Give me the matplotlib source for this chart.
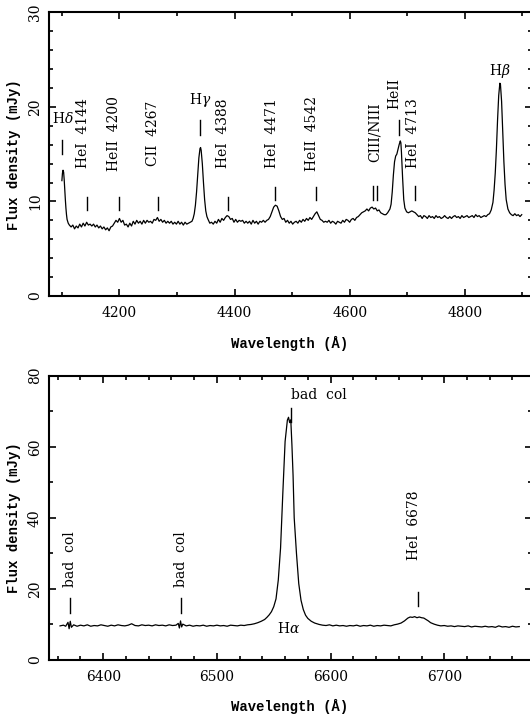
#!/usr/bin/python3

#
# plot.py: blue and red optical spectra with line identifications.
# Writes out.png.
#

import matplotlib
matplotlib.use('Agg')
import matplotlib.pyplot as plt
from matplotlib.ticker import MultipleLocator

# blue arm: wavelength (A) and flux density (mJy)
blue_wave = [
  4100, 4101, 4102, 4103, 4104, 4105, 4106, 4107, 4108, 4109, 4111, 4113,
  4116, 4119, 4122, 4125, 4128, 4131, 4134, 4137, 4140, 4143, 4146, 4149,
  4152, 4155, 4158, 4161, 4164, 4167, 4170, 4173, 4176, 4179, 4182, 4185,
  4188, 4191, 4194, 4197, 4200, 4203, 4206, 4209, 4212, 4215, 4218, 4221,
  4224, 4227, 4230, 4233, 4236, 4239, 4242, 4245, 4248, 4251, 4254, 4257,
  4260, 4263, 4266, 4269, 4272, 4275, 4278, 4281, 4284, 4287, 4290, 4293,
  4296, 4299, 4302, 4305, 4308, 4311, 4314, 4317, 4320, 4323, 4326, 4328,
  4330, 4332, 4334, 4336, 4338, 4340, 4341, 4342, 4344, 4346, 4348, 4350,
  4352, 4354, 4357, 4360, 4363, 4366, 4369, 4372, 4375, 4378, 4381, 4384,
  4387, 4390, 4393, 4396, 4399, 4402, 4405, 4408, 4411, 4414, 4417, 4420,
  4423, 4426, 4429, 4432, 4435, 4438, 4441, 4444, 4447, 4450, 4453, 4456,
  4459, 4462, 4465, 4468, 4471, 4474, 4477, 4480, 4483, 4486, 4489, 4492,
  4495, 4498, 4501, 4504, 4507, 4510, 4513, 4516, 4519, 4522, 4525, 4528,
  4531, 4534, 4537, 4540, 4543, 4546, 4549, 4552, 4555, 4558, 4561, 4564,
  4567, 4570, 4573, 4576, 4579, 4582, 4585, 4588, 4591, 4594, 4597, 4600,
  4603, 4606, 4609, 4612, 4615, 4618, 4621, 4624, 4627, 4630, 4633, 4636,
  4639, 4642, 4645, 4648, 4651, 4654, 4657, 4660, 4663, 4666, 4668, 4670,
  4672, 4674, 4676, 4678, 4680, 4682, 4684, 4686, 4688, 4689, 4690, 4692,
  4694, 4696, 4699, 4702, 4705, 4708, 4711, 4714, 4717, 4720, 4723, 4726,
  4729, 4732, 4735, 4738, 4741, 4744, 4747, 4750, 4753, 4756, 4759, 4762,
  4765, 4768, 4771, 4774, 4777, 4780, 4783, 4786, 4789, 4792, 4795, 4798,
  4801, 4804, 4807, 4810, 4813, 4816, 4819, 4822, 4825, 4828, 4831, 4834,
  4837, 4840, 4843, 4846, 4849, 4851, 4853, 4855, 4857, 4859, 4861, 4862,
  4864, 4866, 4868, 4870, 4872, 4875, 4878, 4881, 4884, 4887, 4890, 4893,
  4896, 4899,
]
blue_flux = [
  12.2, 13.0, 13.3, 13.1, 12.3, 11.2, 10.2, 9.3, 8.6, 8.1, 7.7, 7.5,
  7.3, 7.5, 7.1, 7.4, 7.2, 7.6, 7.3, 7.7, 7.4, 7.8, 7.5, 7.6,
  7.4, 7.6, 7.3, 7.5, 7.2, 7.4, 7.1, 7.3, 7.0, 7.2, 6.9, 7.3,
  7.4, 7.7, 8.0, 7.8, 8.2, 7.8, 8.0, 7.5, 7.6, 7.3, 7.7, 7.4,
  7.9, 7.6, 8.0, 7.7, 7.9, 7.6, 8.0, 7.7, 8.0, 7.8, 7.9, 7.7,
  8.1, 8.0, 8.3, 7.9, 8.1, 7.8, 8.0, 7.7, 7.9, 7.7, 7.9, 7.6,
  7.8, 7.6, 7.9, 7.6, 7.8, 7.5, 7.8, 7.6, 7.7, 7.8, 7.9, 8.2,
  8.7, 9.6, 11.0, 12.8, 14.6, 15.6, 15.7, 15.4, 14.0, 12.0, 10.2, 9.0,
  8.4, 8.1, 7.7, 7.8, 7.6, 7.9, 7.7, 8.1, 7.8, 8.2, 8.0, 8.3,
  8.5, 8.4, 8.1, 8.2, 7.8, 8.1, 7.8, 8.0, 7.9, 8.0, 7.7, 7.9,
  7.7, 7.9, 7.6, 8.0, 7.7, 7.9, 7.6, 7.9, 7.8, 8.0, 7.8, 8.0,
  8.1, 8.4, 8.9, 9.4, 9.6, 9.5, 9.0, 8.4, 8.1, 8.2, 7.8, 8.0,
  7.7, 7.9, 7.6, 7.8, 7.9, 7.7, 8.0, 7.8, 8.1, 7.9, 8.2, 8.0,
  8.3, 8.1, 8.4, 8.7, 8.9, 8.5, 8.1, 8.0, 7.8, 7.9, 7.8, 8.0,
  7.7, 7.9, 7.8, 7.6, 7.9, 7.8, 7.7, 8.0, 7.8, 8.1, 8.0, 7.8,
  8.1, 8.2, 8.0, 8.3, 8.4, 8.6, 8.8, 8.9, 9.0, 9.2, 9.0, 9.3,
  9.4, 9.2, 9.3, 9.0, 9.1, 8.8, 8.7, 8.6, 8.6, 8.8, 9.0, 9.2,
  9.7, 11.0, 12.8, 14.2, 14.8, 15.0, 15.5, 16.0, 16.4, 16.2, 15.2, 12.5,
  10.2, 9.3, 8.9, 8.8, 8.9, 9.0, 8.9, 8.8, 8.6, 8.4, 8.5, 8.2,
  8.5, 8.4, 8.2, 8.5, 8.3, 8.4, 8.2, 8.5, 8.3, 8.4, 8.2, 8.3,
  8.5, 8.3, 8.2, 8.4, 8.2, 8.4, 8.5, 8.3, 8.4, 8.2, 8.5, 8.3,
  8.4, 8.5, 8.3, 8.4, 8.5, 8.3, 8.6, 8.4, 8.5, 8.3, 8.4, 8.5,
  8.4, 8.6, 8.7, 9.1, 9.9, 11.2, 13.0, 15.5, 18.6, 21.2, 22.5, 22.4,
  20.6, 17.5, 14.2, 11.8, 10.2, 9.2, 8.8, 8.6, 8.5, 8.7, 8.5, 8.6,
  8.4, 8.6,
]

# red arm: wavelength (A) and flux density (mJy)
red_wave = [
  6362, 6365, 6367, 6369, 6370, 6371, 6372, 6374, 6377, 6380, 6383, 6386,
  6389, 6392, 6395, 6398, 6401, 6404, 6407, 6410, 6413, 6416, 6419, 6422,
  6425, 6428, 6431, 6434, 6437, 6440, 6443, 6446, 6449, 6452, 6455, 6458,
  6461, 6464, 6466, 6467, 6468, 6469, 6470, 6473, 6476, 6479, 6482, 6485,
  6488, 6491, 6494, 6497, 6500, 6503, 6506, 6509, 6512, 6515, 6518, 6521,
  6524, 6527, 6530, 6533, 6536, 6539, 6542, 6544, 6546, 6548, 6550, 6552,
  6554, 6556, 6558, 6560, 6562, 6563, 6564, 6565, 6566, 6567, 6568, 6569,
  6570, 6572, 6574, 6576, 6578, 6580, 6583, 6586, 6590, 6593, 6596, 6599,
  6602, 6605, 6608, 6611, 6614, 6617, 6620, 6623, 6626, 6629, 6632, 6635,
  6638, 6641, 6644, 6647, 6650, 6653, 6656, 6659, 6662, 6665, 6668, 6670,
  6672, 6674, 6676, 6678, 6680, 6682, 6684, 6686, 6688, 6691, 6694, 6697,
  6700, 6703, 6706, 6709, 6712, 6715, 6718, 6721, 6724, 6727, 6730, 6733,
  6736, 6739, 6742, 6745, 6748, 6751, 6754, 6757, 6760, 6763, 6766,
]
red_flux = [
  9.6, 9.8, 9.5, 10.6, 8.8, 10.9, 9.2, 9.9, 9.5, 9.8, 9.6, 9.9,
  9.5, 9.7, 9.6, 9.9, 9.7, 9.5, 9.8, 9.6, 9.9, 9.7, 9.6, 9.8,
  10.2, 9.7, 9.6, 9.9, 9.7, 9.8, 9.6, 9.9, 9.7, 9.8, 9.6, 9.9,
  9.7, 9.8, 10.3, 9.0, 11.0, 9.3, 10.1, 9.6, 9.8, 9.5, 9.7, 9.6,
  9.8, 9.5, 9.7, 9.6, 9.8, 9.6, 9.7, 9.5, 9.8, 9.7, 9.6, 9.8,
  9.7, 9.9, 10.0, 10.2, 10.5, 10.9, 11.4, 12.0, 12.7, 13.6, 15.0, 17.2,
  22.5, 31.5, 47.0, 61.5, 67.5, 68.3, 66.8, 67.6, 60.5, 52.0, 40.0, 35.0,
  30.0, 21.5, 16.8, 14.2, 12.6, 11.7, 10.9, 10.4, 10.0, 9.8, 9.7, 9.9,
  9.6, 9.8, 9.6, 9.7, 9.5, 9.7, 9.6, 9.8, 9.5, 9.7, 9.6, 9.8,
  9.5, 9.7, 9.6, 9.8, 9.7, 9.6, 9.9, 10.1, 10.4, 11.0, 11.8, 12.1,
  12.0, 12.2, 11.9, 12.1, 11.9, 11.8, 11.4, 11.0, 10.5, 10.1, 9.8, 9.6,
  9.7, 9.5, 9.6, 9.4, 9.6, 9.5, 9.4, 9.6, 9.3, 9.5, 9.4, 9.3,
  9.5, 9.3, 9.4, 9.2, 9.6, 9.3, 9.4, 9.2, 9.5, 9.3, 9.4,
]

# line identifications: label and wavelength(s) of its marker
blue_lines = ['H$\\delta$', 'HeI  4144', 'HeII  4200', 'CII  4267', 'H$\\gamma$',
              'HeI  4388', 'HeI  4471', 'HeII  4542', 'CIII/NIII', 'HeII',
              'HeI  4713', 'H$\\beta$']
blue_marks = [[4101], [4144], [4200], [4267], [4340], [4388], [4471], [4542],
              [4640, 4647], [4686], [4713], [4861]]
red_lines = ['bad  col', 'bad  col', 'bad  col', 'HeI  6678', 'H$\\alpha$']
red_marks = [[6371], [6468], [6565], [6677], []]

# where each label and marker sits: label x, label y, rotation, ha,
# marker bottom, marker top
blue_layout = [
  (4102, 18.8, 0, 'center', 15.0, 16.5),
  (4137, 17.2, 90, 'center', 9.1, 10.5),
  (4191, 17.2, 90, 'center', 9.1, 10.5),
  (4258, 17.2, 90, 'center', 9.1, 10.5),
  (4340, 20.7, 0, 'center', 17.0, 18.6),
  (4380, 17.2, 90, 'center', 9.1, 10.5),
  (4465, 17.2, 90, 'center', 10.1, 11.5),
  (4534, 17.2, 90, 'center', 10.1, 11.5),
  (4644, 17.3, 90, 'center', 10.1, 11.6),
  (4678, 21.4, 90, 'center', 17.0, 18.6),
  (4710, 17.2, 90, 'center', 10.1, 11.6),
  (4861, 23.8, 0, 'center', 0, 0),
]
red_layout = [
  (6371, 28.3, 90, 'center', 13.3, 17.4),
  (6468, 28.3, 90, 'center', 13.3, 17.4),
  (6565, 74.6, 0, 'left', 67.0, 71.0),
  (6673, 37.8, 90, 'center', 15.3, 19.2),
  (6563, 8.9, 0, 'center', 0, 0),
]

plt.rcParams['font.family'] = 'DejaVu Serif'
plt.rcParams['font.size'] = 10
plt.rcParams['mathtext.fontset'] = 'dejavuserif'

W, H = 530, 714
fig = plt.figure(figsize=(W / 100, H / 100), dpi=100)

def px_axes(left, top, right, bottom):
  """axes from pixel box"""
  return fig.add_axes([left / W, 1 - bottom / H, (right - left) / W, (bottom - top) / H])

def style(ax, ymaj, ymin, xmaj, xmin):
  """inward ticks on all sides, rotated y labels"""
  for s in ax.spines.values():
    s.set_linewidth(1.5)
  ax.xaxis.set_major_locator(MultipleLocator(xmaj))
  ax.xaxis.set_minor_locator(MultipleLocator(xmin))
  ax.yaxis.set_major_locator(MultipleLocator(ymaj))
  ax.yaxis.set_minor_locator(MultipleLocator(ymin))
  ax.tick_params(which='both', direction='in', top=True, right=True, width=1.2)
  ax.tick_params(which='major', length=5, pad=7)
  ax.tick_params(axis='y', which='major', pad=5)
  ax.tick_params(which='minor', length=2.8)
  for lab in ax.get_yticklabels():
    lab.set_rotation(90)
    lab.set_va('center')
  ax.set_xlabel('Wavelength (Å)', family='Liberation Mono', weight='bold', fontsize=10)
  ax.set_ylabel('Flux density (mJy)', family='Liberation Mono', weight='bold', fontsize=10)

def annotate(ax, names, marks, layout):
  """line labels and tick markers"""
  for name, lams, (tx, ty, rot, ha, y0, y1) in zip(names, marks, layout):
    ax.text(tx, ty, name, rotation=rot, ha=ha, va='center', fontsize=10)
    for lam in lams:
      ax.plot([lam, lam], [y0, y1], color='black', lw=1.0)

# blue spectrum
ax1 = px_axes(49, 12.3, 532, 296)
ax1.plot(blue_wave, blue_flux, color='black', lw=0.9)
annotate(ax1, blue_lines, blue_marks, blue_layout)
ax1.set_xlim(4077.6, 4500 + (532 - 292.1) / 0.5755)
ax1.set_ylim(0, 30)
style(ax1, 10, 2, 200, 100)
ax1.xaxis.set_label_coords((290 - 49) / 483, -(336 - 296) / 283.7)
ax1.yaxis.set_label_coords(-(49 - 21) / 483, 0.5)

# red spectrum
ax2 = px_axes(49, 375.7, 532, 660)
ax2.plot(red_wave, red_flux, color='black', lw=0.9)
annotate(ax2, red_lines, red_marks, red_layout)
ax2.set_xlim(6352.3, 6550 + (532 - 273.75) / 1.1367)
ax2.set_ylim(0, 80)
style(ax2, 20, 10, 100, 20)
ax2.xaxis.set_label_coords((290 - 49) / 483, -(699 - 660) / 284.3)
ax2.yaxis.set_label_coords(-(49 - 21) / 483, 0.5)

plt.savefig('out.png', dpi=100)
